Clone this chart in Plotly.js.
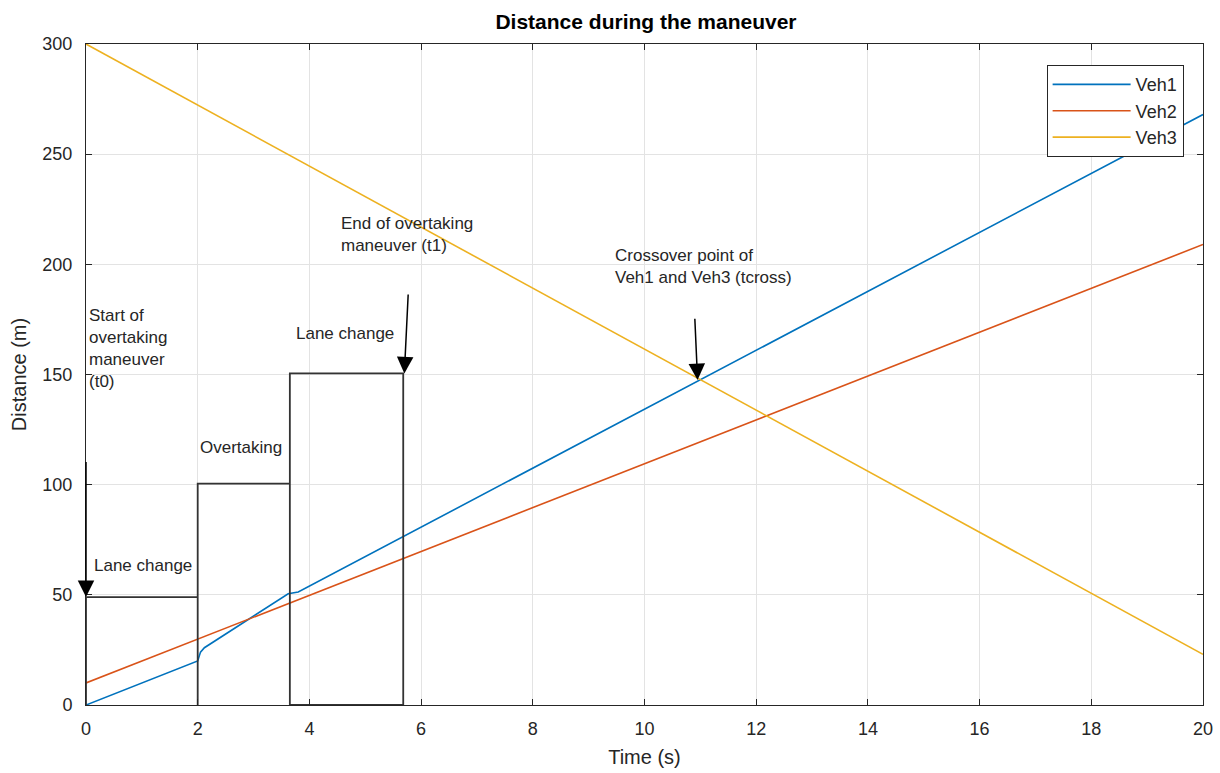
<!DOCTYPE html>
<html>
<head>
<meta charset="utf-8">
<script src="https://cdn.plot.ly/plotly-3.0.1.min.js"></script>
<style>html,body{margin:0;padding:0;background:#fff;}#chart{width:1220px;height:773px;}</style>
</head>
<body>
<div id="chart"></div>
<script>
// Data
var veh1T = [0, 2, 2.05, 2.12, 3.62, 3.7, 3.8, 20];
var veh1D = [0, 20, 24, 26, 50.5, 51, 51.3, 268];
var veh2T = [0, 20];
var veh2D = [10, 209];
var veh3T = [0, 20];
var veh3D = [300, 23];
var phaseT = [0, 0, 2, 2, 2, 3.65, 3.65, 3.65, 5.68, 5.68, 3.65];
var phaseD = [0, 49, 49, 0, 100.5, 100.5, 0, 150.5, 150.5, 0, 0];
var seriesNames = ['Veh1', 'Veh2', 'Veh3'];
var seriesColors = ['#0072BD', '#D95319', '#EDB120'];
var xTicks = [0, 2, 4, 6, 8, 10, 12, 14, 16, 18, 20];
var yTicks = [0, 50, 100, 150, 200, 250, 300];

var fontFam = '"Liberation Sans", Arial, sans-serif';
var txtColor = '#262626';

var traces = [
  {x: veh1T, y: veh1D, mode: 'lines', name: seriesNames[0], line: {color: seriesColors[0], width: 1.6}},
  {x: veh2T, y: veh2D, mode: 'lines', name: seriesNames[1], line: {color: seriesColors[1], width: 1.6}},
  {x: veh3T, y: veh3D, mode: 'lines', name: seriesNames[2], line: {color: seriesColors[2], width: 1.6}},
  {x: phaseT, y: phaseD, mode: 'lines', showlegend: false, hoverinfo: 'skip', line: {color: '#333333', width: 1.8}}
];

function arrow(xh, yh, xt, yt) {
  return {x: xh, y: yh, ax: xt, ay: yt, xref: 'x', yref: 'y', axref: 'x', ayref: 'y',
    showarrow: true, arrowhead: 2, arrowsize: 2.2, arrowwidth: 1.5, arrowcolor: '#000', text: ''};
}
function label(txt, x, y) {
  return {x: x, y: y, xref: 'x', yref: 'y', text: txt, showarrow: false, xanchor: 'left', yanchor: 'middle', align: 'left',
    font: {family: fontFam, size: 17, color: txtColor}};
}

var annotations = [
  arrow(0, 49, 0, 111),
  arrow(5.7, 150.5, 5.77, 187),
  arrow(10.95, 147.5, 10.9, 176),
  label('Start of<br>overtaking<br>maneuver<br>(t0)', 0.02, 162),
  label('Lane change', 0.10, 63.5),
  label('Overtaking', 2.0, 117),
  label('Lane change', 3.73, 168.7),
  label('End of overtaking<br>maneuver (t1)', 4.53, 213.6),
  label('Crossover point of<br>Veh1 and Veh3 (tcross)', 9.43, 199)
];

var axisCommon = {
  showline: true, linecolor: '#262626', linewidth: 1, mirror: 'ticks',
  ticks: 'inside', ticklen: 6, tickcolor: '#262626',
  showgrid: true, gridcolor: '#E3E3E3', gridwidth: 1, zeroline: false,
  tickfont: {family: fontFam, size: 18, color: txtColor}
};

var layout = {
  width: 1220, height: 773,
  margin: {l: 86, r: 17, t: 44, b: 68},
  paper_bgcolor: '#fff', plot_bgcolor: '#fff',
  title: {text: '<b>Distance during the maneuver</b>', x: 0.5295, xanchor: 'center', y: 0.9715, yanchor: 'middle',
    font: {family: fontFam, size: 21, color: '#000'}},
  xaxis: Object.assign({}, axisCommon, {range: [0, 20], tickvals: xTicks, ticktext: xTicks.map(String),
    ticklabelstandoff: 7,
    title: {text: 'Time (s)', font: {family: fontFam, size: 20, color: txtColor}, standoff: 12}}),
  yaxis: Object.assign({}, axisCommon, {range: [0, 300], tickvals: yTicks, ticktext: yTicks.map(String),
    ticklabelstandoff: 9,
    title: {text: 'Distance (m)', font: {family: fontFam, size: 20, color: txtColor}, standoff: 10}}),
  legend: {x: 0.86, y: 0.968, xanchor: 'left', yanchor: 'top', bordercolor: '#262626', borderwidth: 1,
    bgcolor: '#fff', font: {family: fontFam, size: 18, color: txtColor}, tracegroupgap: 0, itemwidth: 78},
  annotations: annotations,
  showlegend: true
};

Plotly.newPlot('chart', traces, layout, {displayModeBar: false, staticPlot: true});
</script>
</body>
</html>
